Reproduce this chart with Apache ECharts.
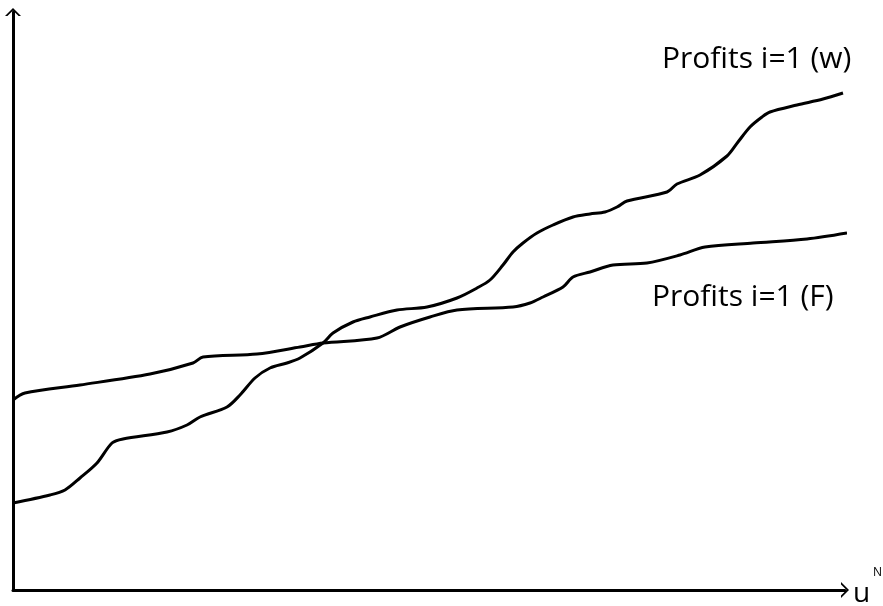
<!DOCTYPE html>
<html><head><meta charset="utf-8">
<script src="https://cdn.jsdelivr.net/npm/echarts@6/dist/echarts.min.js"></script>
<style>html,body{margin:0;padding:0;background:#fff}#c{width:883px;height:606px}</style>
</head><body><div id="c"></div>
<script>
// x: horizontal position (u^N), y: profit level (arbitrary units)
var wX = [0, 37, 52, 67, 84, 99, 110, 154, 174, 187, 214, 227, 242, 257, 274, 287, 310, 320, 340, 357, 384, 414, 444, 464, 477, 490, 500, 510, 524, 540, 560, 577, 592, 604, 614, 654, 664, 687, 714, 725, 737, 749, 757, 784, 810, 830];
var wY = [87, 95, 100, 112, 127, 147, 151, 158, 165, 173, 183, 195, 212, 222, 227, 232, 247, 257, 268, 273, 280, 283, 292, 302, 310, 325, 338, 347, 357, 365, 373, 376, 378, 383, 389, 398, 406, 415, 434, 448, 463, 473, 478, 485, 491, 497];
var fX = [0, 12, 67, 137, 180, 190, 244, 287, 310, 364, 387, 417, 444, 500, 517, 530, 550, 560, 577, 600, 634, 667, 692, 740, 794, 834];
var fY = [190, 197, 205, 216, 227, 233, 236, 243, 247, 252, 263, 273, 280, 283, 287, 293, 303, 313, 318, 325, 327, 335, 343, 347, 351, 357];
var labelW = 'Profits i=1 (w)';
var labelF = 'Profits i=1 (F)';
var axisXName = 'u';
var axisXSup = 'N';

function pairs(xs, ys){ return xs.map(function(x,i){ return [x, ys[i]]; }); }
var chev = 'path://M0,10 L10,0 L20,10 L17,10 L10,3 L3,10 Z';
var chart = echarts.init(document.getElementById('c'), null, {renderer:'canvas'});
var font = '"Open Sans", sans-serif';
chart.setOption({
  animation:false,
  backgroundColor:'#fff',
  grid:{left:13, right:38, top:12, bottom:16},
  xAxis:{type:'value', min:0, max:832, splitLine:{show:false}, axisTick:{show:false}, axisLabel:{show:false},
    axisLine:{onZero:false, lineStyle:{color:'#000', width:3}, symbol:['none', chev], symbolSize:[16,10]}},
  yAxis:{type:'value', min:0, max:578, splitLine:{show:false}, axisTick:{show:false}, axisLabel:{show:false},
    axisLine:{onZero:false, lineStyle:{color:'#000', width:3}, symbol:['none', chev], symbolSize:[16,10]}},
  series:[
    {type:'line', data:pairs(wX,wY), showSymbol:false, smooth:0.3, lineStyle:{color:'#000', width:3}},
    {type:'line', data:pairs(fX,fY), showSymbol:false, smooth:0.3, lineStyle:{color:'#000', width:3}}
  ],
  graphic:[
    {type:'text', left:662, top:44, style:{text:labelW, font:'30px '+font, fill:'#000'}},
    {type:'text', left:652, top:282, style:{text:labelF, font:'30px '+font, fill:'#000'}},
    {type:'text', left:853, top:580, style:{text:axisXName, font:'28px '+font, fill:'#000'}},
    {type:'text', left:873, top:567, style:{text:axisXSup, font:'12px '+font, fill:'#000'}}
  ]
});
</script></body></html>
